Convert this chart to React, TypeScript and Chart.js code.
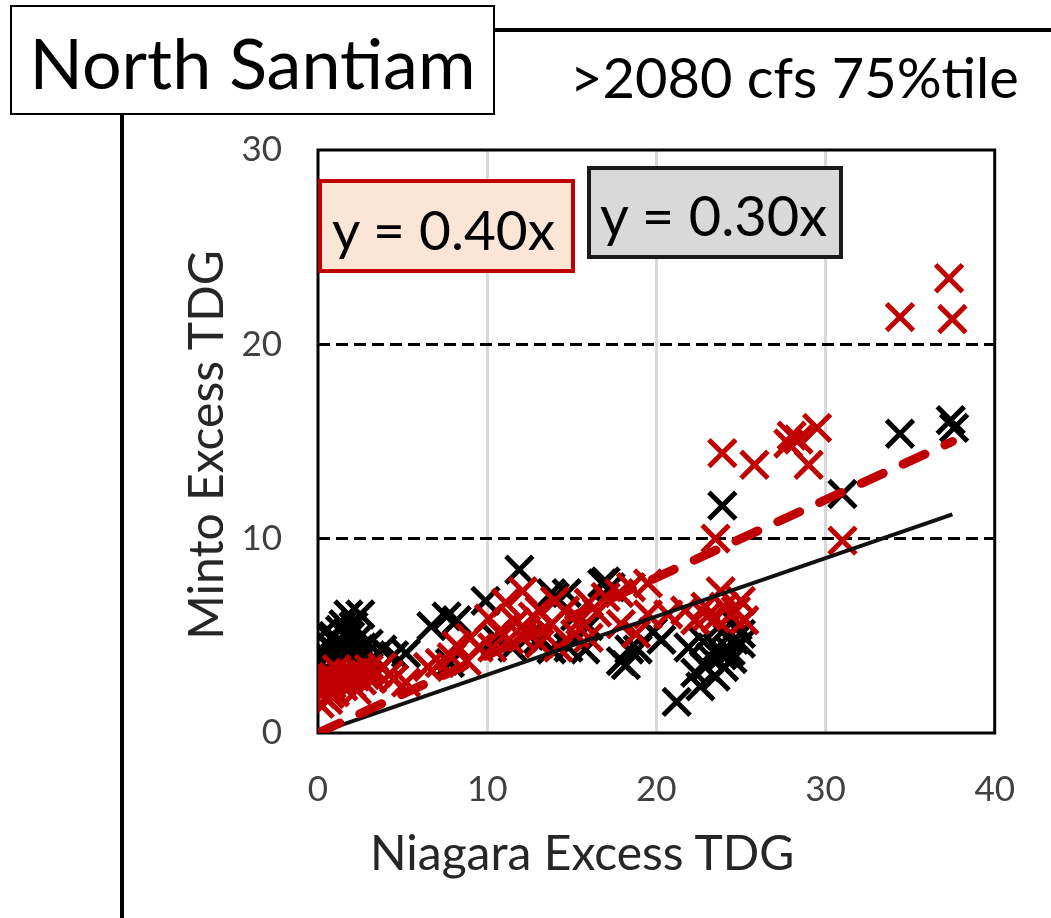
import React, { useEffect, useRef } from "react";
import { Chart, registerables } from "chart.js";

Chart.register(...registerables);

// ---- Data ----
const blackX = [
  0.2, 0.3, 0.5, 0.6, 0.8, 0.9, 1.0, 1.1, 1.3, 1.4, 1.5, 1.6, 1.8, 1.9, 2.0, 2.1, 2.3, 2.5, 2.6, 2.8, 3.0, 3.3, 3.8, 4.5, 5.2, 0.4, 1.2, 2.2,
  6.7, 7.6, 8.2, 9.9, 11.9, 7.8, 10.5, 11.5, 13.8, 14.7, 16.8, 17.3, 15.8, 14.8, 13.8, 17.9, 18.4, 18.2, 18.9, 19.8, 20.3, 12.5, 13.0, 15.2, 16.0, 14.0, 17.0,
  21.2, 21.9, 22.3, 22.6, 22.9, 23.2, 23.6, 24.2, 24.6, 25.0, 24.0, 23.5, 24.4, 24.8, 23.9, 24.5, 25.0, 22.8, 24.0,
  23.9, 31.0, 34.4, 37.4, 37.6,
];
const blackY = [
  3.6, 4.2, 4.6, 3.9, 4.4, 5.0, 3.8, 4.7, 5.3, 4.1, 5.6, 4.5, 6.1, 5.0, 4.2, 5.5, 4.8, 6.1, 4.4, 4.0, 4.6, 3.9, 4.3, 4.0, 4.1, 5.2, 3.6, 3.8,
  5.5, 6.0, 5.8, 6.8, 8.4, 3.6, 4.9, 4.4, 7.2, 7.2, 7.7, 7.5, 4.3, 4.4, 4.3, 3.7, 4.3, 3.5, 4.3, 5.2, 4.8, 5.0, 4.8, 6.0, 5.5, 7.0, 7.8,
  1.6, 4.4, 3.1, 2.4, 3.4, 3.9, 4.4, 4.9, 4.8, 5.1, 3.4, 2.9, 4.2, 5.5, 4.0, 3.8, 4.6, 4.7, 5.3,
  11.7, 12.3, 15.4, 16.1, 15.7,
];

const redX = [
  0.1, 0.2, 0.3, 0.5, 0.6, 0.8, 0.9, 1.0, 1.2, 1.4, 1.5, 1.7, 1.9, 2.0, 2.2, 2.4, 2.6, 2.8, 3.0, 3.2, 3.5, 3.8, 4.2, 4.5, 5.2, 0.4, 1.1, 2.3, 0.7,
  6.5, 7.2, 7.9, 8.8, 9.5, 10.1, 10.3, 11.1, 11.3, 12.1, 12.1, 12.3, 13.1, 13.1, 13.8, 14.2, 14.6, 15.2, 16.0, 16.0, 17.0, 17.8, 17.9, 18.5, 18.8,
  19.5, 19.5, 20.7, 21.7, 22.3, 22.9, 23.5, 23.8, 24.4, 25.0, 25.2, 10.7, 11.7, 12.7, 14.0, 15.5, 16.5, 9.0, 8.2, 24.0, 23.0, 24.7,
  23.5, 23.9, 25.8, 27.8, 28.4, 28.0, 29.0, 29.5, 31.0, 34.4, 37.3, 37.5,
];
const redY = [
  1.5, 2.0, 2.6, 2.3, 1.7, 2.5, 2.9, 2.1, 2.7, 3.0, 2.4, 2.8, 3.1, 2.5, 2.9, 3.2, 2.7, 3.0, 3.3, 2.8, 3.1, 3.4, 3.0, 2.8, 2.6, 3.0, 3.3, 2.2, 2.0,
  3.4, 3.6, 3.9, 3.7, 4.4, 5.9, 4.4, 6.7, 4.8, 7.3, 4.9, 5.3, 6.3, 4.6, 5.6, 4.4, 6.3, 5.1, 6.7, 4.9, 7.0, 7.2, 5.6, 7.5, 5.1,
  7.7, 6.1, 6.1, 6.3, 5.8, 6.5, 5.9, 7.3, 6.1, 6.8, 5.8, 5.2, 5.7, 6.0, 6.8, 5.8, 6.2, 4.9, 4.5, 6.5, 6.0, 6.3,
  10.0, 14.4, 13.8, 14.9, 15.1, 15.3, 13.8, 15.7, 9.9, 21.4, 23.4, 21.3,
];

const trendX = [0, 37.5];
const redTrendY = [0, 15.0];
const blackTrendY = [0, 11.25];

const xTicks = [0, 10, 20, 30, 40];
const yTicks = [0, 10, 20, 30];

const panelLabel = "North Santiam";
const chartTitle = ">2080 cfs 75%tile";
const redEquation = "y = 0.40x";
const blackEquation = "y = 0.30x";
const xTitle = "Niagara Excess TDG";
const yTitle = "Minto Excess TDG";

const FONT = "Lato, 'Open Sans', sans-serif";

const pts = (xs: number[], ys: number[]) => xs.map((x, i) => ({ x, y: ys[i] }));

const framePlugin = {
  id: "frame",
  beforeDatasetsDraw(chart: any) {
    const { ctx, chartArea } = chart;
    ctx.save();
    ctx.strokeStyle = "#000";
    ctx.lineWidth = 3;
    ctx.strokeRect(chartArea.left, chartArea.top, chartArea.right - chartArea.left, chartArea.bottom - chartArea.top);
    ctx.restore();
  },
};

export default function App() {
  const ref = useRef<HTMLCanvasElement | null>(null);

  useEffect(() => {
    if (!ref.current) return;
    const chart = new Chart(ref.current, {
      type: "scatter",
      data: {
        datasets: [
          {
            label: "red trend",
            data: pts(trendX, redTrendY),
            showLine: true,
            borderColor: "#C00000",
            borderWidth: 9,
            borderDash: [24, 22],
            borderCapStyle: "round",
            pointRadius: 0,
            order: 0,
          },
          {
            label: "black trend",
            data: pts(trendX, blackTrendY),
            showLine: true,
            borderColor: "#111",
            borderWidth: 4,
            pointRadius: 0,
            order: 1,
          },
          {
            label: "red",
            data: pts(redX, redY),
            pointStyle: "crossRot",
            pointRadius: 19,
            pointBorderWidth: 5,
            borderWidth: 5,
            pointBorderColor: "#C00000",
            pointBackgroundColor: "#C00000",
            borderColor: "#C00000",
            order: 2,
          },
          {
            label: "black",
            data: pts(blackX, blackY),
            pointStyle: "crossRot",
            pointRadius: 19,
            pointBorderWidth: 5,
            borderWidth: 5,
            pointBorderColor: "#000",
            pointBackgroundColor: "#000",
            borderColor: "#000",
            order: 3,
          },
        ],
      },
      options: {
        animation: false,
        responsive: false,
        devicePixelRatio: 1,
        elements: { point: { borderWidth: 5 } },
        layout: { padding: { left: 0, top: 150, right: 53, bottom: 0 } },
        plugins: { legend: { display: false }, tooltip: { enabled: false }, title: { display: false } },
        scales: {
          x: {
            type: "linear",
            min: 0,
            max: 40,
            afterFit: (s: any) => { s.height = 185; },
            afterBuildTicks: (s: any) => { s.ticks = xTicks.map((v) => ({ value: v })); },
            ticks: { font: { family: FONT, size: 35 }, color: "#404040", padding: 36 },
            grid: {
              drawTicks: false,
              lineWidth: 3,
              color: (c: any) => ([10, 20, 30].includes(c.tick?.value) ? "#D9D9D9" : "rgba(0,0,0,0)"),
            },
            border: { display: false },
          },
          y: {
            type: "linear",
            min: 0,
            max: 30,
            afterFit: (s: any) => { s.width = 318; },
            afterBuildTicks: (s: any) => { s.ticks = yTicks.map((v) => ({ value: v })); },
            ticks: { font: { family: FONT, size: 35 }, color: "#404040", padding: 36 },
            grid: {
              drawTicks: false,
              lineWidth: 3,
              color: (c: any) => ([10, 20].includes(c.tick?.value) ? "#000" : "rgba(0,0,0,0)"),
            },
            border: { display: false, dash: [12, 6] },
          },
        },
      },
      plugins: [framePlugin],
    } as any);
    return () => chart.destroy();
  }, []);

  const abs = (s: React.CSSProperties): React.CSSProperties => ({ position: "absolute", ...s });

  return (
    <div style={{ position: "fixed", left: 0, top: 0, width: 1051, height: 918, background: "#fff", overflow: "hidden", fontFamily: FONT }}>
      <canvas ref={ref} width={1051} height={918} style={{ position: "absolute", left: 0, top: 0, width: 1051, height: 918 }} />
      {/* frame lines */}
      <div style={abs({ left: 495, top: 28, width: 556, height: 4, background: "#000" })} />
      <div style={abs({ left: 120, top: 115, width: 4, height: 803, background: "#000" })} />
      {/* panel label box */}
      <div
        style={abs({
          left: 10, top: 5, width: 485, height: 110, boxSizing: "border-box", border: "2px solid #000", background: "#fff",
          display: "flex", alignItems: "center", justifyContent: "center", paddingTop: 4,
          fontSize: 70, lineHeight: 1, color: "#000", whiteSpace: "nowrap",
        })}
      >
        {panelLabel}
      </div>
      {/* title */}
      <div style={abs({ left: 570, top: 77 - 28, fontSize: 56, lineHeight: "56px", color: "#000", whiteSpace: "nowrap" })}>{chartTitle}</div>
      {/* equation boxes */}
      <div
        style={abs({
          left: 318, top: 179, width: 257, height: 94, boxSizing: "border-box", border: "4px solid #C00000", background: "#FBE5D6",
          display: "flex", alignItems: "center", paddingLeft: 10, paddingTop: 6, fontSize: 55, lineHeight: 1, color: "#000", whiteSpace: "nowrap",
        })}
      >
        {redEquation}
      </div>
      <div
        style={abs({
          left: 587, top: 166, width: 256, height: 93, boxSizing: "border-box", border: "4px solid #1a1a1a", background: "#D9D9D9",
          display: "flex", alignItems: "center", paddingLeft: 9, paddingTop: 4, fontSize: 56, lineHeight: 1, color: "#000", whiteSpace: "nowrap",
        })}
      >
        {blackEquation}
      </div>
      {/* axis titles */}
      <div style={abs({ left: 370, top: 852 - 24, fontSize: 48, lineHeight: "48px", color: "#262626", whiteSpace: "nowrap" })}>{xTitle}</div>
      <div
        style={abs({
          left: 205 - 250, top: 445 - 24, width: 500, height: 48, textAlign: "center", fontSize: 48, lineHeight: "48px", color: "#262626",
          whiteSpace: "nowrap", transform: "rotate(-90deg)", transformOrigin: "50% 50%",
        })}
      >
        {yTitle}
      </div>
    </div>
  );
}
